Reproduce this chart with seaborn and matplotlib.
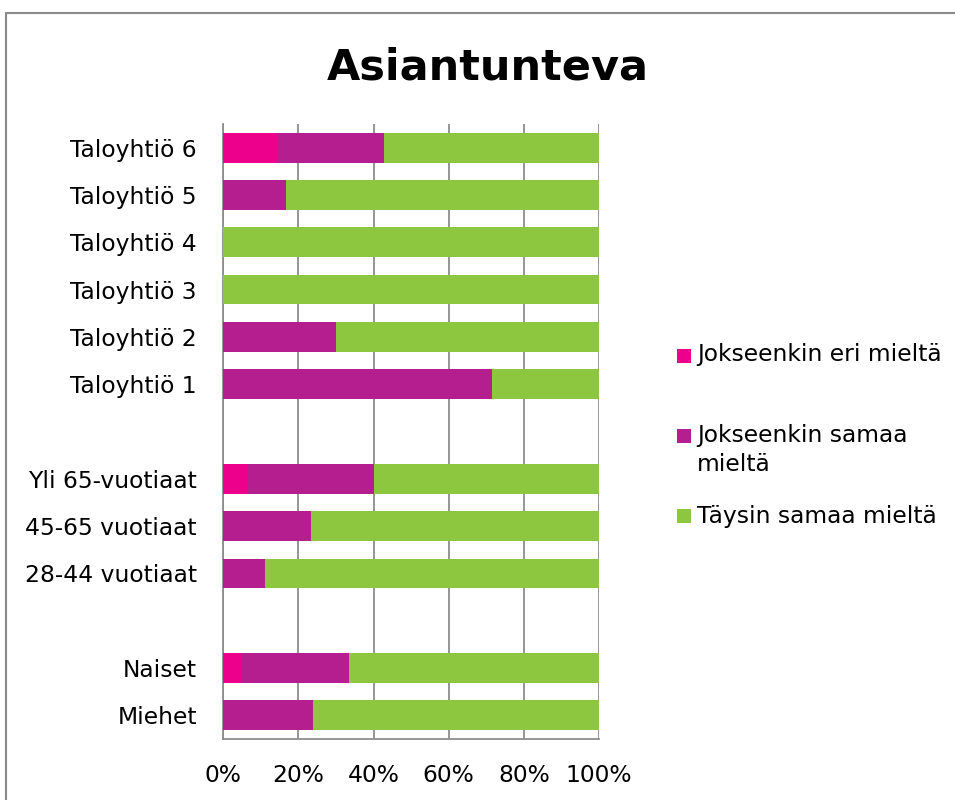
import matplotlib
matplotlib.use('agg')
import matplotlib.pyplot as plt
from matplotlib.patches import Rectangle
import pandas as pd
import seaborn as sns

groups = ["Taloyhtiö 6", "Taloyhtiö 5", "Taloyhtiö 4", "Taloyhtiö 3", "Taloyhtiö 2",
          "Taloyhtiö 1", "Yli 65-vuotiaat", "45-65 vuotiaat", "28-44 vuotiaat",
          "Naiset", "Miehet"]
order = groups[:6] + [" "] + groups[6:9] + ["  "] + groups[9:]
eri = [14.3, 0, 0, 0, 0, 0, 6.7, 0, 0, 4.8, 0]
samaa = [28.6, 16.7, 0, 0, 30.0, 71.4, 33.3, 23.4, 11.1, 28.6, 23.9]
taysin = [57.1, 83.3, 100, 100, 70.0, 28.6, 60.0, 76.6, 88.9, 66.6, 76.1]
series = ["Jokseenkin eri mieltä", "Jokseenkin samaa\nmieltä", "Täysin samaa mieltä"]
xticks = [0, 20, 40, 60, 80, 100]
xlabels = ["0%", "20%", "40%", "60%", "80%", "100%"]

colors = ["#EC008C", "#B41E8E", "#8DC63F"]
grid_col = "#8e8e8e"

df = pd.DataFrame({"group": groups, "eri": eri, "samaa": samaa, "taysin": taysin})
df["c1"] = df["eri"]
df["c2"] = df["eri"] + df["samaa"]
df["c3"] = df["c2"] + df["taysin"]

sns.set_theme(style="white")
plt.rcParams['font.family'] = ['DejaVu Sans']
plt.rcParams['text.color'] = 'black'

fig = plt.figure(figsize=(9.55, 8.0), dpi=100)
ax = fig.add_axes([223.3 / 955, 1 - 739 / 800, 375.7 / 955, 615 / 800])

for col, c in zip(["c3", "c2", "c1"], colors[::-1]):
    sns.barplot(data=df, y="group", x=col, order=order, color=c, width=0.63,
                errorbar=None, linewidth=0, saturation=1, ax=ax, zorder=3)

ax.set_xlim(0, 100)
ax.set_xticks(xticks)
ax.set_xticklabels(xlabels)
ax.set_xlabel("")
ax.set_ylabel("")
ax.grid(axis="x", color=grid_col, linewidth=1.3, zorder=0)
ax.grid(axis="y", visible=False)
for s in ["top", "right"]:
    ax.spines[s].set_visible(False)
for s in ["left", "bottom"]:
    ax.spines[s].set_color(grid_col)
    ax.spines[s].set_linewidth(1.3)
ax.tick_params(axis="both", length=0, labelsize=16.8, colors="black")
ax.tick_params(axis="x", pad=18)
ax.tick_params(axis="y", pad=19)

fig.text(488 / 955, 1 - 67 / 800, "Asiantunteva", ha="center", va="center",
         fontsize=31, fontweight="bold", color="black")

# legend drawn by hand to match the spacing
sq_y = [355.5, 435.5, 515.5]
txt_y = [355, 450, 516]
for lab, c, sy, ty in zip(series, colors, sq_y, txt_y):
    fig.patches.append(Rectangle((677 / 955, 1 - (sy + 7) / 800), 14 / 955, 14 / 800,
                                 transform=fig.transFigure, facecolor=c, edgecolor="none"))
    fig.text(697 / 955, 1 - ty / 800, lab, ha="left", va="center", fontsize=16.8,
             linespacing=1.3, color="black")

fig.patches.append(Rectangle((5.5 / 955, -0.05), 1.1, 1 - 12.5 / 800 + 0.05,
                             transform=fig.transFigure, fill=False,
                             edgecolor="#8a8a8a", linewidth=1.5))

fig.savefig("out.png", dpi=100)
